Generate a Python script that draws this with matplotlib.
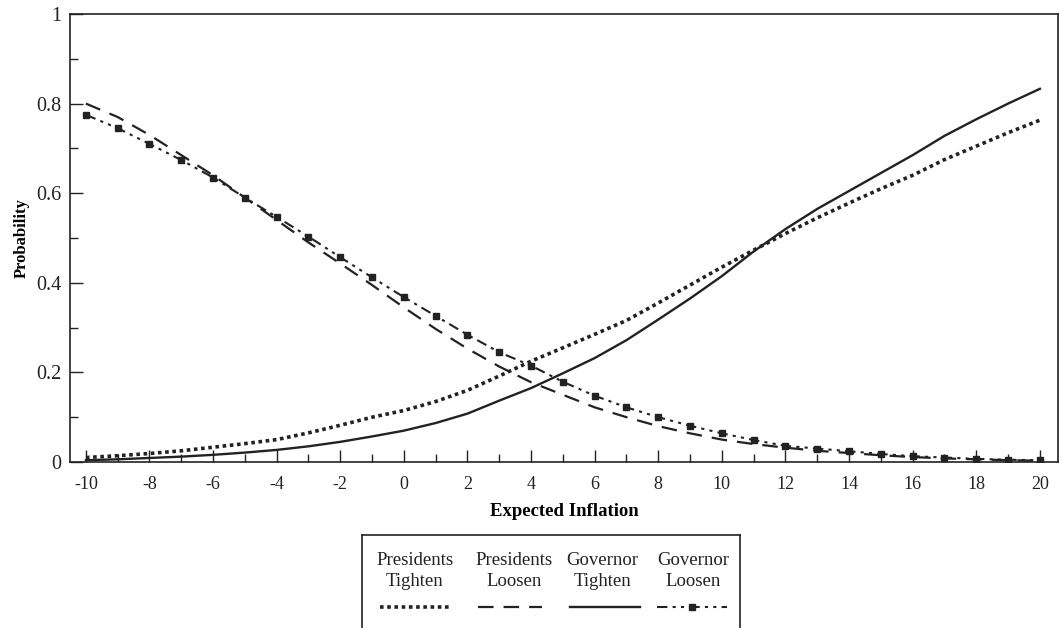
import numpy as np
import matplotlib
matplotlib.use('Agg')
import matplotlib.pyplot as plt
from matplotlib.lines import Line2D

plt.rcParams['font.family'] = ['Liberation Serif', 'DejaVu Serif']
plt.rcParams['axes.unicode_minus'] = False

# expected inflation grid
inflation = list(range(-10, 21))

# probabilities
presidents_tighten = [0.010, 0.014, 0.019, 0.025, 0.033, 0.041, 0.050, 0.065, 0.082, 0.100,
                      0.115, 0.135, 0.160, 0.192, 0.225, 0.255, 0.285, 0.316, 0.355, 0.395,
                      0.435, 0.473, 0.510, 0.545, 0.578, 0.610, 0.640, 0.675, 0.705, 0.735, 0.763]
presidents_loosen = [0.800, 0.770, 0.730, 0.685, 0.640, 0.590, 0.540, 0.490, 0.443, 0.395,
                     0.345, 0.297, 0.253, 0.213, 0.178, 0.150, 0.122, 0.100, 0.080, 0.064,
                     0.050, 0.040, 0.032, 0.025, 0.020, 0.015, 0.011, 0.008, 0.006, 0.004, 0.003]
governor_tighten = [0.004, 0.006, 0.009, 0.012, 0.016, 0.021, 0.027, 0.035, 0.045, 0.057,
                    0.070, 0.087, 0.108, 0.137, 0.165, 0.198, 0.232, 0.272, 0.318, 0.365,
                    0.415, 0.470, 0.520, 0.565, 0.605, 0.645, 0.685, 0.728, 0.765, 0.800, 0.833]
governor_loosen = [0.775, 0.745, 0.710, 0.674, 0.635, 0.590, 0.547, 0.503, 0.457, 0.412,
                   0.368, 0.326, 0.284, 0.245, 0.215, 0.179, 0.148, 0.122, 0.100, 0.081,
                   0.064, 0.049, 0.036, 0.030, 0.024, 0.018, 0.013, 0.010, 0.007, 0.005, 0.004]

legend_labels = ['Presidents\nTighten', 'Presidents\nLoosen', 'Governor\nTighten', 'Governor\nLoosen']
x_ticks = list(range(-10, 21, 2))
y_ticks = [0, 0.2, 0.4, 0.6, 0.8, 1]
y_tick_labels = ['0', '0.2', '0.4', '0.6', '0.8', '1']

W, H = 1063, 628
fig = plt.figure(figsize=(W / 100, H / 100), dpi=100)
ax = fig.add_axes([70 / W, 1 - 462 / H, (1058 - 70) / W, (462 - 14) / H])

styles = [
    dict(color='#222222', lw=2.6, linestyle=(0, (1.0, 1.0))),
    dict(color='#222222', lw=1.6, linestyle=(0, (7, 4.5))),
    dict(color='#222222', lw=1.7, linestyle='-'),
    dict(color='#222222', lw=1.5, linestyle=(0, (5, 2.5, 1.5, 2.5, 1.5, 2.5)),
         marker='s', markersize=3.8),
]
series = [presidents_tighten, presidents_loosen, governor_tighten, governor_loosen]
for vals, st in zip(series, styles):
    ax.plot(inflation, vals, **st)

ax.set_xlim(-10.5, 20.57)
ax.set_ylim(0, 1)
ax.set_xticks(x_ticks)
ax.set_xticks(inflation, minor=True)
ax.set_yticks(y_ticks)
ax.set_yticklabels(y_tick_labels)
ax.set_yticks(np.arange(0.1, 1.0, 0.2), minor=True)
ax.tick_params(which='both', direction='in', top=False, right=False, colors='#222222')
ax.tick_params(which='major', length=9, width=1)
ax.tick_params(which='minor', length=6, width=1)
ax.tick_params(axis='x', pad=10, labelsize=13)
ax.tick_params(axis='y', pad=6, labelsize=14.5)
for s in ax.spines.values():
    s.set_linewidth(1.2)
    s.set_color('#222222')

ax.set_xlabel('Expected Inflation', fontsize=13.5, fontweight='bold', labelpad=7)
ax.set_ylabel('Probability', fontsize=12, fontweight='bold', labelpad=5)

# legend box below the plot, handles under the labels
lax = fig.add_axes([362 / W, -0.06, (740 - 362) / W, 1 - 535 / H + 0.06])
lax.set_xticks([])
lax.set_yticks([])
for s in lax.spines.values():
    s.set_linewidth(1.2)
    s.set_color('#222222')

centers = [415, 514, 602, 693]
spans = [(380, 452), (478, 542), (570, 640), (657, 727)]
for lab, c, sp, st in zip(legend_labels, centers, spans, styles):
    fig.text(c / W, 1 - 571 / H, lab, ha='center', va='center', fontsize=13.5,
             linespacing=1.35, color='#222222')
    st2 = dict(st)
    if 'marker' in st2:
        st2['markevery'] = [1]
    line = Line2D([sp[0] / W, (sp[0] + sp[1]) / 2 / W, sp[1] / W], [1 - 607 / H] * 3,
                  transform=fig.transFigure, **st2)
    fig.add_artist(line)

fig.savefig('out.png', dpi=100)
